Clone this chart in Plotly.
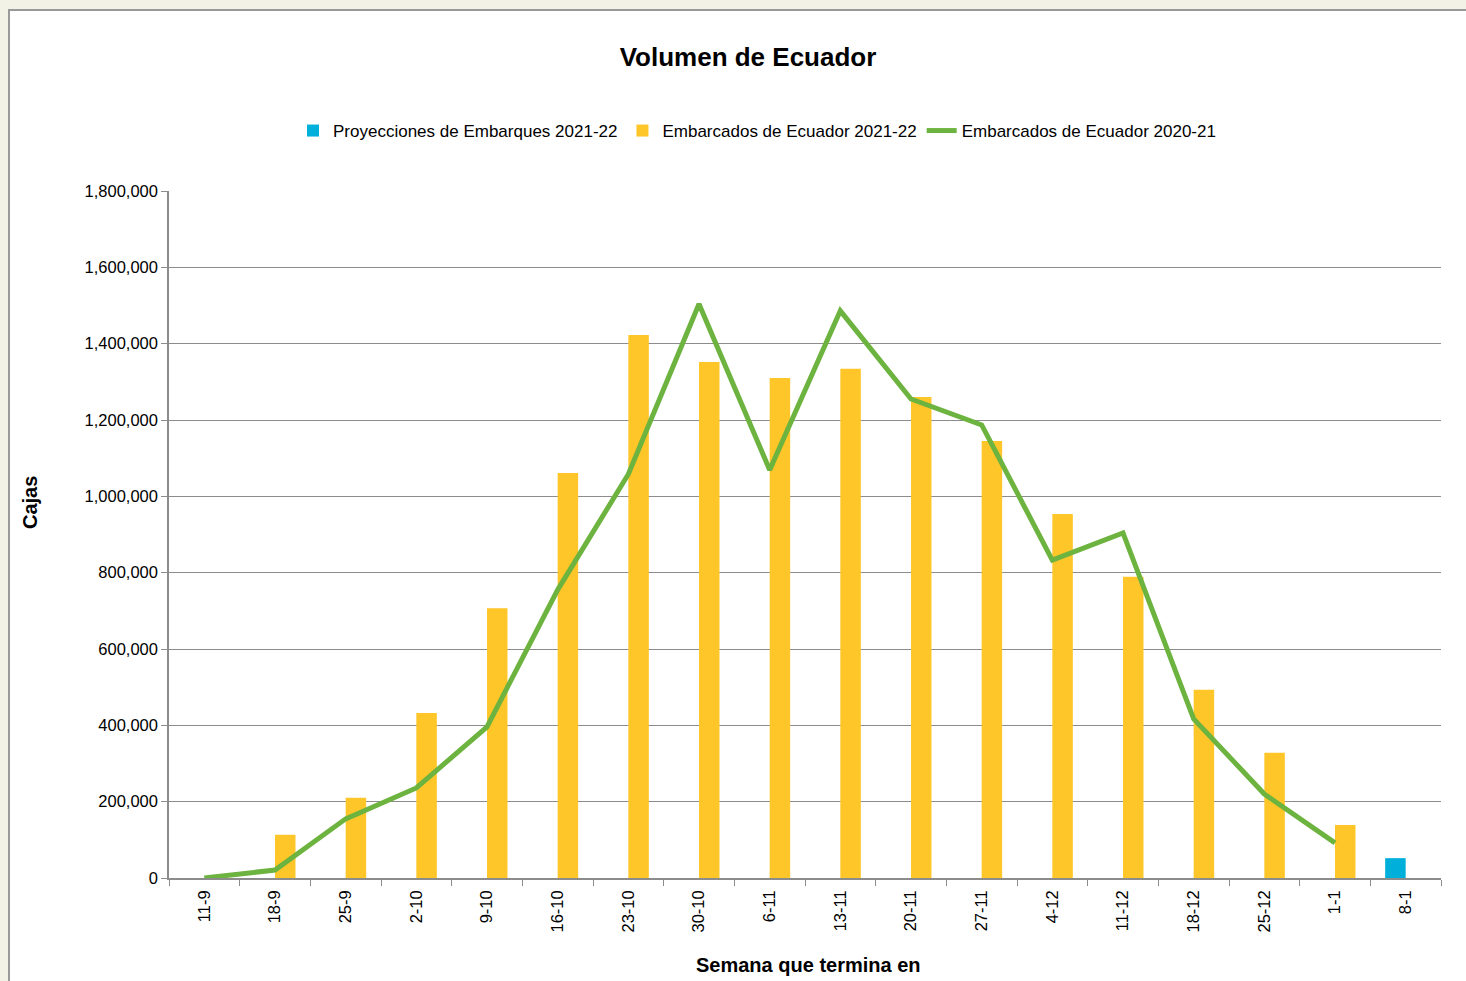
import plotly.graph_objects as go

semanas = ["11-9", "18-9", "25-9", "2-10", "9-10", "16-10", "23-10", "30-10", "6-11",
           "13-11", "20-11", "27-11", "4-12", "11-12", "18-12", "25-12", "1-1", "8-1"]
proyecciones_2021_22 = [None] * 17 + [52000]
embarcados_2021_22 = [None, 113000, 210000, 432000, 707000, 1061000, 1423000, 1352000, 1310000,
                      1334000, 1260000, 1145000, 954000, 789000, 493000, 328000, 139000, None]
embarcados_2020_21 = [0, 21000, 155000, 236000, 396000, 755000, 1058000, 1504000, 1069000,
                      1486000, 1255000, 1187000, 833000, 904000, 417000, 220000, 92000, None]
y_ticks = [0, 200000, 400000, 600000, 800000, 1000000, 1200000, 1400000, 1600000, 1800000]

W, H = 1466, 981
L, R, T, B = 169, 1441, 191, 878

def px(x):
    return (x - L) / (R - L)

def py(y):
    return (B - y) / (B - T)

fig = go.Figure()
fig.add_trace(go.Bar(x=semanas, y=proyecciones_2021_22, name="Proyecciones de Embarques 2021-22",
                     marker=dict(color="#00B0DA", line=dict(width=0))))
fig.add_trace(go.Bar(x=semanas, y=embarcados_2021_22, name="Embarcados de Ecuador 2021-22",
                     marker=dict(color="#FFC629", line=dict(width=0))))
fig.add_trace(go.Scatter(x=semanas, y=embarcados_2020_21, name="Embarcados de Ecuador 2020-21",
                         mode="lines", line=dict(color="#6DB33F", width=5), connectgaps=False))

fig.update_layout(
    width=W, height=H,
    margin=dict(l=L, r=W - R, t=T, b=H - B),
    paper_bgcolor="#F2F3E6",
    plot_bgcolor="white",
    font=dict(family="Liberation Sans, Arial, sans-serif", size=16, color="black"),
    barmode="group",
    bargap=0.42,
    bargroupgap=0,
    title=dict(text="<b>Volumen de Ecuador</b>", x=748 / W, xanchor="center",
               y=1 - 57 / H, yanchor="middle", font=dict(size=26, color="black")),
    legend=dict(orientation="h", x=px(757), xanchor="center", y=py(131), yanchor="middle",
                font=dict(size=17), bgcolor="rgba(0,0,0,0)", itemwidth=30, traceorder="normal"),
    showlegend=True,
    xaxis=dict(type="category", tickson="boundaries", ticks="outside", ticklen=6,
               tickcolor="#8C8C8C", showline=True, linecolor="#8C8C8C", linewidth=1.5,
               tickangle=-90, showgrid=False, tickfont=dict(size=16.5), ticklabelstandoff=4),
    yaxis=dict(range=[0, 1800000], tickvals=y_ticks, tickformat=",", ticks="outside",
               ticklen=6, tickcolor="#8C8C8C", showline=True, linecolor="#8C8C8C", linewidth=1.5,
               showgrid=True, gridcolor="#8C8C8C", gridwidth=1, zeroline=False,
               tickfont=dict(size=16.5)),
    shapes=[dict(type="rect", xref="paper", yref="paper", x0=px(9), x1=px(1600),
                 y0=py(1100), y1=py(10), fillcolor="white",
                 line=dict(color="#999999", width=2), layer="below")],
    annotations=[
        dict(text="<b>Cajas</b>", xref="paper", yref="paper", x=px(30), y=py(503),
             showarrow=False, textangle=-90, font=dict(size=20), xanchor="center", yanchor="middle"),
        dict(text="<b>Semana que termina en</b>", xref="paper", yref="paper", x=px(808), y=py(965),
             showarrow=False, font=dict(size=20), xanchor="center", yanchor="middle"),
    ],
)

fig.write_html("out.html", config={"displayModeBar": False},
               post_script="document.body.style.margin='0px';")
